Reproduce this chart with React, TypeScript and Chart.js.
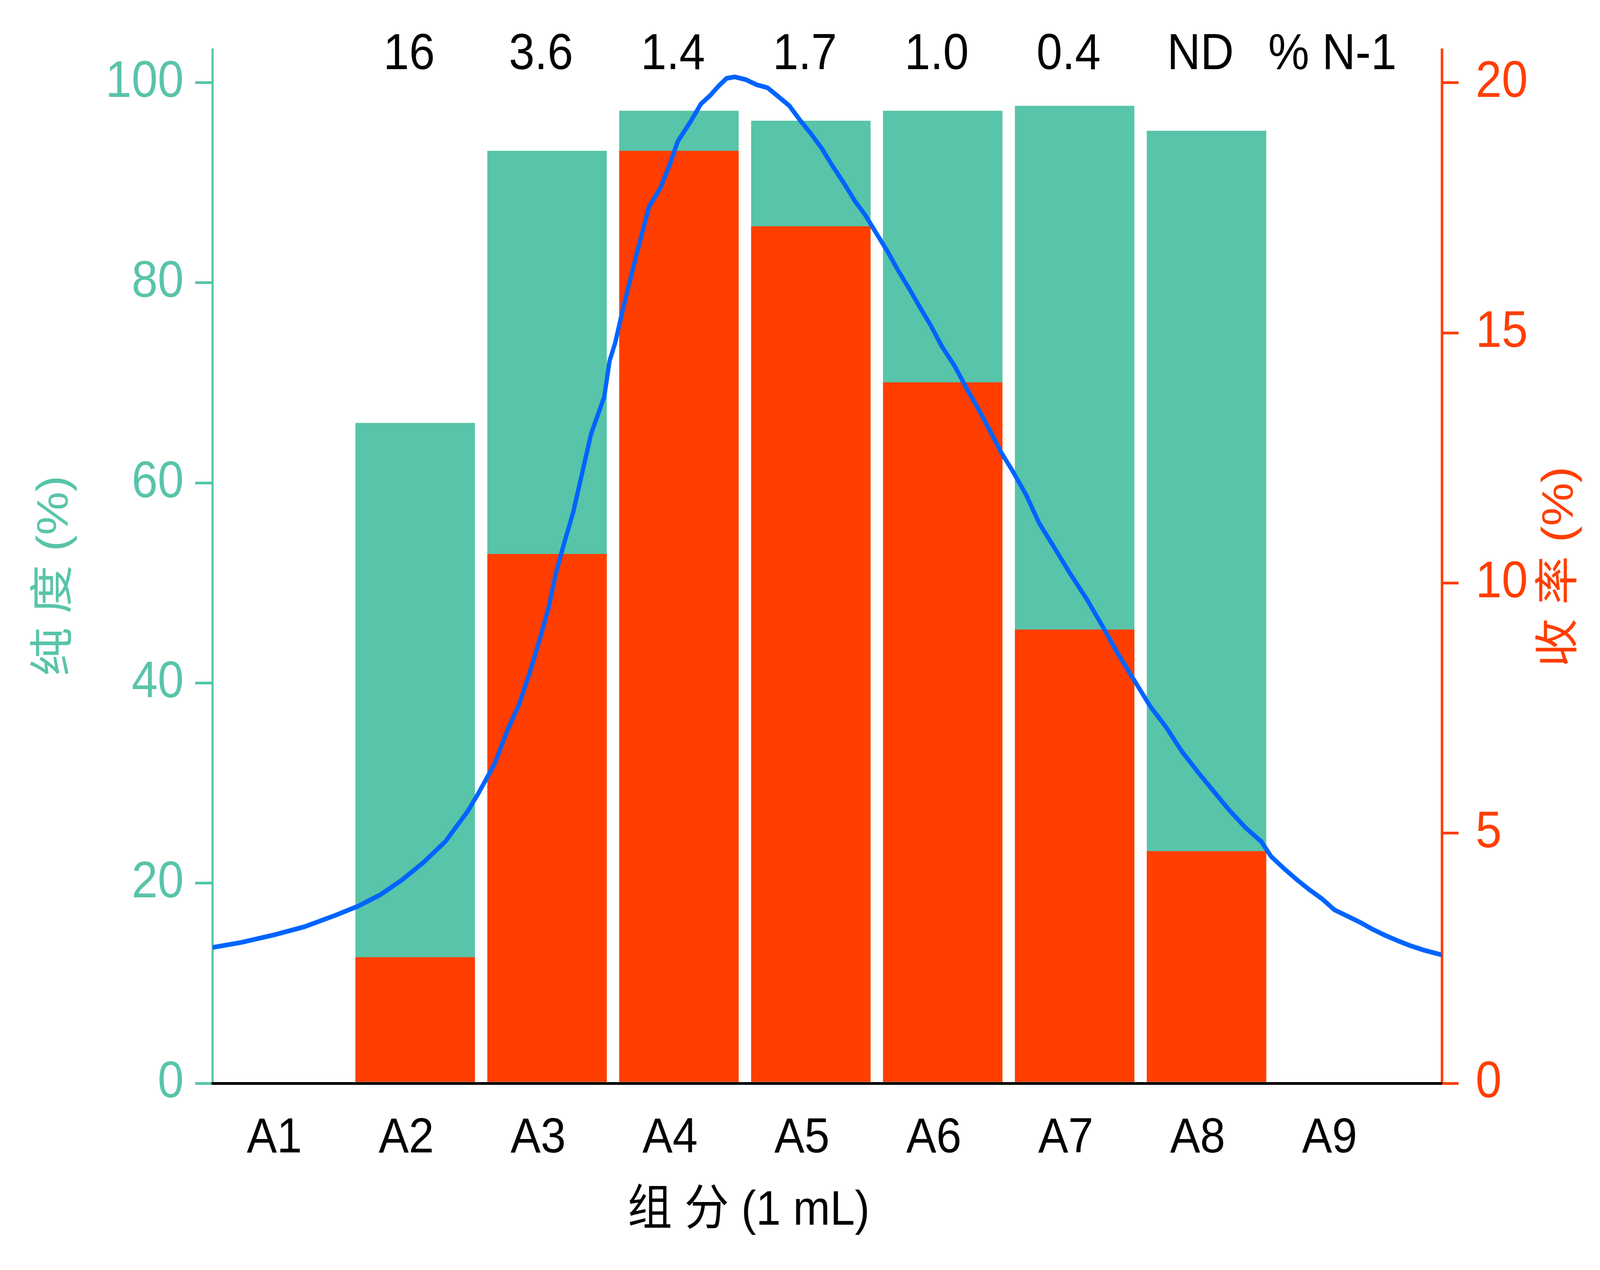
import React, { useEffect, useRef } from "react";
import { Chart, registerables } from "chart.js";

Chart.register(...registerables);

// ---------- data ----------
const categories = ["A1", "A2", "A3", "A4", "A5", "A6", "A7", "A8", "A9"];
const purity = [null, 66.0, 93.2, 97.2, 96.2, 97.2, 97.7, 95.2, null]; // 纯度 (%)
const yieldPct = [null, 2.52, 10.58, 18.64, 17.13, 14.01, 9.07, 4.64, null]; // 收率 (%)
const n1Labels = ["", "16", "3.6", "1.4", "1.7", "1.0", "0.4", "ND", "% N-1"];
const purityTicks = [0, 20, 40, 60, 80, 100];
const yieldTicks = [0, 5, 10, 15, 20];

// chromatogram trace (x in fraction units, y on purity axis)
const traceX = [
  0.464, 0.683, 0.93, 1.158, 1.404, 1.57, 1.736, 1.9, 2.065, 2.23, 2.396, 2.477, 2.601, 2.705, 2.787,
  2.87, 2.951, 3.013, 3.065, 3.127, 3.199, 3.333, 3.434, 3.474, 3.516, 3.578, 3.64, 3.702, 3.774, 3.857,
  3.929, 3.991, 4.094, 4.166, 4.239, 4.299, 4.361, 4.423, 4.507, 4.589, 4.671, 4.755, 4.836, 4.919,
  5.002, 5.084, 5.167, 5.249, 5.332, 5.414, 5.496, 5.58, 5.662, 5.744, 5.827, 5.908, 5.992, 6.094,
  6.178, 6.28, 6.364, 6.445, 6.528, 6.631, 6.73, 6.852, 6.972, 7.092, 7.213, 7.332, 7.453, 7.574,
  7.693, 7.814, 7.935, 8.054, 8.175, 8.295, 8.415, 8.49, 8.586, 8.682, 8.779, 8.875, 8.97, 9.067,
  9.164, 9.259, 9.356, 9.453, 9.549, 9.644, 9.784,
];
const traceY = [
  13.57, 14.08, 14.83, 15.63, 16.83, 17.72, 18.84, 20.32, 22.1, 24.18, 27.14, 28.93, 31.89, 35.46, 37.84,
  41.1, 44.67, 47.62, 50.87, 53.86, 57.12, 64.87, 68.63, 72.2, 73.98, 77.55, 80.81, 84.06, 87.63, 89.41,
  91.78, 94.14, 96.24, 97.87, 98.76, 99.65, 100.44, 100.58, 100.31, 99.79, 99.5, 98.6, 97.71, 96.24,
  94.88, 93.41, 91.62, 90.0, 88.21, 86.74, 84.96, 83.17, 81.23, 79.45, 77.55, 75.77, 73.67, 71.6,
  69.52, 67.16, 65.06, 63.01, 61.23, 58.84, 56.01, 53.41, 50.81, 48.39, 45.64, 42.85, 40.25, 37.65,
  35.6, 33.15, 31.1, 29.18, 27.26, 25.55, 24.16, 22.66, 21.48, 20.38, 19.35, 18.44, 17.33, 16.71,
  16.09, 15.39, 14.77, 14.23, 13.73, 13.32, 12.83,
];

const GREEN = "#58C4A9";
const RED = "#FF3E00";
const BLUE = "#0064FF";

const W = 4501;
const H = 3251;

const textPlugin = {
  id: "textPlugin",
  afterDraw(chart: any) {
    const ctx = chart.ctx;
    const xs = chart.scales.x;
    ctx.save();
    // N-1 labels along the top
    ctx.fillStyle = "#000";
    ctx.font = "130px 'Liberation Sans', Arial, sans-serif";
    ctx.textAlign = "center";
    ctx.textBaseline = "alphabetic";
    n1Labels.forEach((t, i) => {
      if (!t) return;
      ctx.fillText(t, xs.getPixelForValue(i + 1) - 17, 177);
    });
    // x title
    ctx.font = "125px 'Liberation Sans', 'Noto Sans CJK SC', sans-serif";
    ctx.textBaseline = "middle";
    ctx.fillText("组 分 (1 mL)", 2106, 3101);
    // left title
    ctx.fillStyle = GREEN;
    ctx.save();
    ctx.translate(156, 1474);
    ctx.rotate(-Math.PI / 2);
    ctx.fillText("纯 度 (%)", 0, 0);
    ctx.restore();
    // right title
    ctx.fillStyle = RED;
    ctx.save();
    ctx.translate(4390, 1451);
    ctx.rotate(-Math.PI / 2);
    ctx.fillText("收 率 (%)", 0, 0);
    ctx.restore();
    ctx.restore();
  },
};

export default function App() {
  const ref = useRef<HTMLCanvasElement | null>(null);

  useEffect(() => {
    if (!ref.current) return;
    const barPts = (arr: (number | null)[]) =>
      arr
        .map((v, i) => (v === null ? null : { x: i + 1, y: v }))
        .filter((p) => p !== null);
    const tracePts = traceX.map((x, i) => ({ x, y: traceY[i] }));

    const chart = new Chart(ref.current, {
      type: "bar",
      data: {
        datasets: [
          {
            type: "line",
            label: "trace",
            data: tracePts as any,
            yAxisID: "y",
            borderColor: BLUE,
            borderWidth: 12,
            pointRadius: 0,
            tension: 0,
            fill: false,
            order: 0,
          } as any,
          {
            type: "bar",
            label: "收率",
            data: barPts(yieldPct) as any,
            yAxisID: "y1",
            backgroundColor: RED,
            borderWidth: 0,
            grouped: false,
            barPercentage: 0.906,
            categoryPercentage: 1,
            order: 1,
          } as any,
          {
            type: "bar",
            label: "纯度",
            data: barPts(purity) as any,
            yAxisID: "y",
            backgroundColor: GREEN,
            borderWidth: 0,
            grouped: false,
            barPercentage: 0.906,
            categoryPercentage: 1,
            order: 2,
          } as any,
        ],
      },
      options: {
        responsive: false,
        devicePixelRatio: 1,
        animation: false,
        layout: { padding: { top: 109, left: 0, right: 0, bottom: 0 } },
        plugins: { legend: { display: false }, tooltip: { enabled: false }, title: { display: false } },
        scales: {
          x: {
            type: "linear",
            position: "bottom",
            min: 0.464,
            max: 9.784,
            offset: false,
            afterBuildTicks: (s: any) => {
              s.ticks = categories.map((_, i) => ({ value: i + 1 }));
            },
            afterFit: (s: any) => {
              s.height = H - 2773;
            },
            grid: { display: false, drawTicks: false, offset: false },
            border: { display: true, color: "#000", width: 7, z: 1 },
            ticks: {
              color: "#000",
              font: { family: "'Liberation Sans', Arial, sans-serif", size: 127 },
              padding: 66,
              labelOffset: -25,
              maxRotation: 0,
              autoSkip: false,
              callback: (v: any) => categories[Math.round(Number(v)) - 1] ?? "",
            },
          },
          y: {
            type: "linear",
            position: "left",
            min: 0,
            max: 103.3,
            afterBuildTicks: (s: any) => {
              s.ticks = purityTicks.map((v) => ({ value: v }));
            },
            afterFit: (s: any) => {
              s.width = 598;
            },
            grid: { drawOnChartArea: false, drawTicks: true, tickLength: 49, color: GREEN, lineWidth: 7 },
            border: { display: true, color: GREEN, width: 6 },
            ticks: {
              color: GREEN,
              font: { family: "'Liberation Sans', Arial, sans-serif", size: 132 },
              padding: 32,
            },
          },
          y1: {
            type: "linear",
            position: "right",
            min: 0,
            max: 20.66,
            afterBuildTicks: (s: any) => {
              s.ticks = yieldTicks.map((v) => ({ value: v }));
            },
            afterFit: (s: any) => {
              s.width = W - 4056;
            },
            grid: { drawOnChartArea: false, drawTicks: true, tickLength: 47, color: RED, lineWidth: 7 },
            border: { display: true, color: RED, width: 7 },
            ticks: {
              color: RED,
              font: { family: "'Liberation Sans', Arial, sans-serif", size: 132 },
              padding: 48,
            },
          },
        },
      } as any,
      plugins: [textPlugin],
    });
    return () => chart.destroy();
  }, []);

  return (
    <div
      style={{
        position: "fixed",
        left: 0,
        top: 0,
        width: "100vw",
        height: "100vh",
        overflow: "hidden",
        background: "#fff",
      }}
    >
      <canvas ref={ref} width={W} height={H} style={{ display: "block", width: "100%", height: "100%" }} />
    </div>
  );
}
